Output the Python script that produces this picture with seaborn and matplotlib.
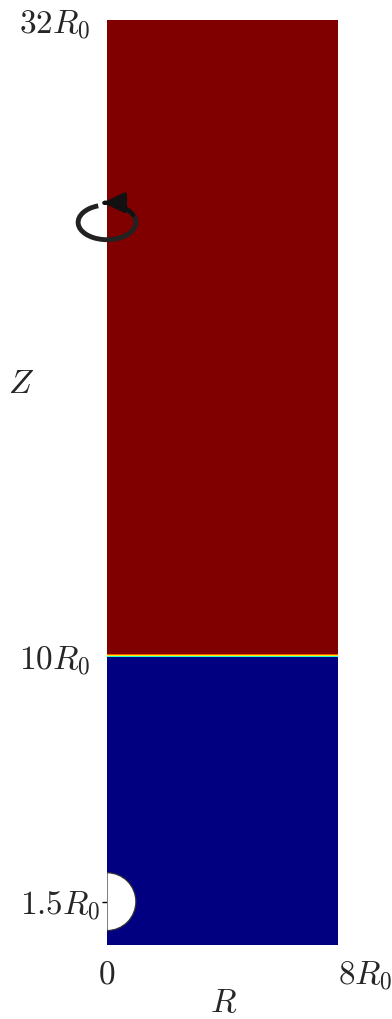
import numpy as np
import pandas as pd
import matplotlib
matplotlib.use("Agg")
import matplotlib.pyplot as plt
import seaborn as sns
from matplotlib.patches import Wedge, Arc, FancyArrowPatch
from matplotlib.path import Path

# ---- data (in units of R0) ----
domain_r = [0.0, 8.0]
domain_z = [0.0, 32.0]
interface_z = [10.0]
phase_below = [0.0]
phase_above = [1.0]
phase_transition = [0.22, 0.40, 0.66, 0.82]   # thin interface layer, bottom to top
bubble_center = [0.0, 1.5]
bubble_radius = [1.0]
rotation_center = [0.0, 25.0]
rotation_semi_axes = [1.0, 0.6]
xtick_vals = [0.0, 8.0]
xtick_labels = ["$0$", "$8R_0$"]
ytick_vals = [1.5, 10.0, 32.0]
ytick_labels = ["$1.5R_0$", "$10R_0$", "$32R_0$"]

# ---- field on a grid (k cells per R0) ----
k = 40
nz = int(domain_z[1] * k)
nr = int(domain_r[1] * k)
zc = (np.arange(nz) + 0.5) / k
prof = np.where(zc < interface_z[0], phase_below[0], phase_above[0])
i_int = int(interface_z[0] * k)
for j, v in enumerate(phase_transition):
    prof[i_int - 2 + j] = v
field = pd.DataFrame(np.repeat(prof[:, None], nr, axis=1))

sns.set_style("white")
plt.rcParams["mathtext.fontset"] = "cm"
plt.rcParams["font.family"] = ["DejaVu Serif", "DejaVu Sans"]

fig = plt.figure(figsize=(3.92, 10.19), dpi=100)
ax = fig.add_axes([0.27296, 0.07262, 0.58929, 0.90775])
sns.heatmap(field, cmap="jet", vmin=0, vmax=1, cbar=False, ax=ax,
            xticklabels=False, yticklabels=False, rasterized=True)
ax.set_xlim(0, nr)
ax.set_ylim(0, nz)
for s in ax.spines.values():
    s.set_visible(False)

# bubble
ax.add_patch(Wedge((bubble_center[0] * k, bubble_center[1] * k), bubble_radius[0] * k,
                   -90, 90, facecolor="white", edgecolor="#333333", lw=0.9, zorder=3))

# rotation arrow
cx, cz = rotation_center[0] * k, rotation_center[1] * k
a, b = rotation_semi_axes[0] * k, rotation_semi_axes[1] * k
ax.add_patch(Arc((cx, cz), 2 * a, 2 * b, theta1=118, theta2=400,
                 color="#222222", lw=3.5, zorder=4, clip_on=False))
tt = np.deg2rad(np.linspace(25, 98, 30))
lift = np.linspace(0, 0.08 * k, tt.size)
pts = np.column_stack([cx + a * np.cos(tt), cz + b * np.sin(tt) + lift])
arrow = FancyArrowPatch(path=Path(pts), arrowstyle="-|>,head_length=0.62,head_width=0.3",
                        mutation_scale=20, lw=3.0, color="#111111", zorder=5,
                        clip_on=False, shrinkA=0, shrinkB=0)
ax.add_patch(arrow)

# ticks
fs = 24
ax.set_xticks([v * k for v in xtick_vals])
ax.set_xticklabels(xtick_labels, fontsize=fs, rotation=0)
ax.set_yticks([v * k for v in ytick_vals])
ax.set_yticklabels(ytick_labels, fontsize=fs, rotation=0)
ax.tick_params(axis="x", length=0, pad=10, labelsize=fs)
ax.tick_params(axis="y", direction="inout", length=7, width=1.0, color="black",
               labelsize=fs, left=True)
yt = ax.yaxis.get_major_ticks()
for i, t in enumerate(yt):
    if i == 0:
        t.set_pad(1.5)
    else:
        t.tick1line.set_visible(False)
        t.set_pad(8.7)
xl = ax.get_xticklabels()
xl[1].set_horizontalalignment("left")
yl = ax.get_yticklabels()
yl[2].set_verticalalignment("center_baseline")

fig.text(21 / 392, 1 - 384 / 1019, "$Z$", fontsize=fs, ha="center", va="center")
fig.text(224 / 392, 1 - 1003 / 1019, "$R$", fontsize=fs, ha="center", va="center")

fig.savefig("out.png", dpi=100)
